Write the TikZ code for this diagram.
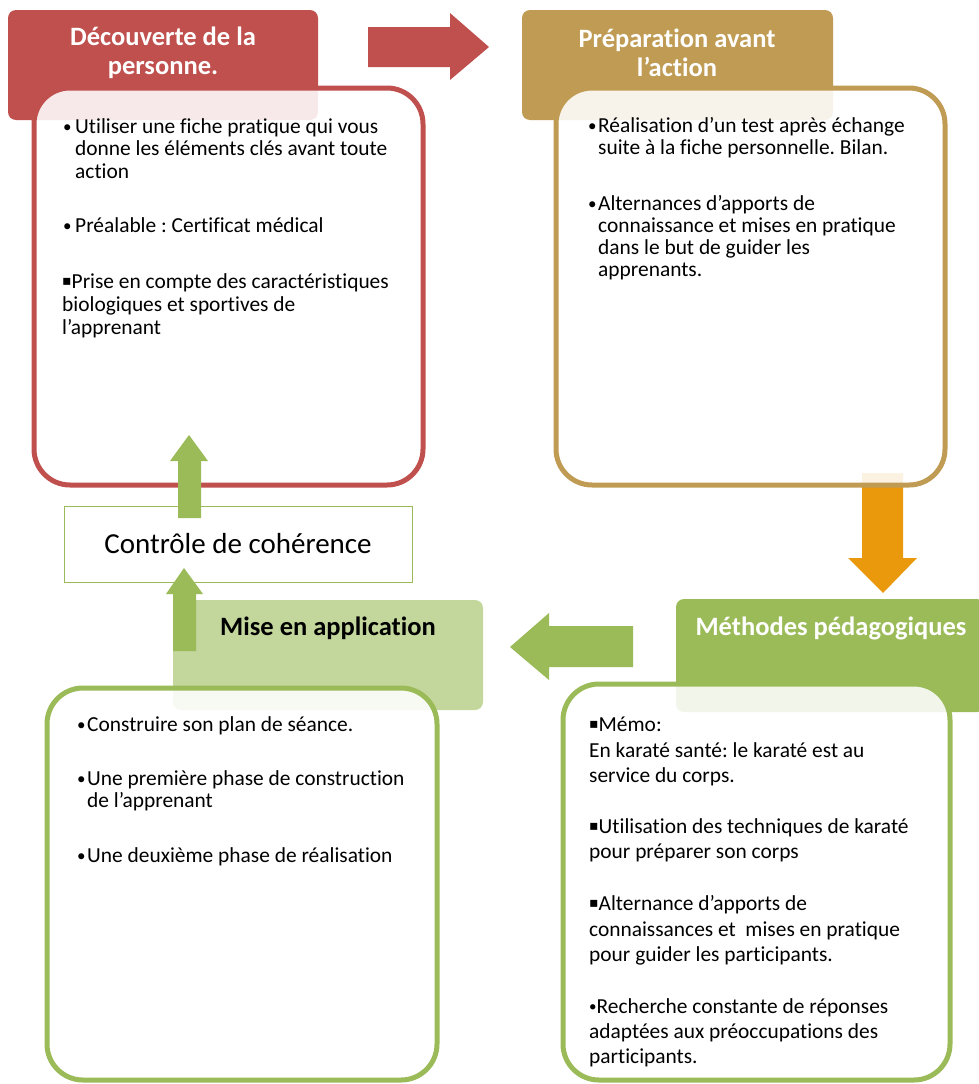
\documentclass[tikz,border=0pt]{standalone}
\usepackage{fontspec}
\setmainfont[Ligatures=CommonOff]{Carlito}
\newfontfamily\symfont{DejaVu Sans}
\frenchspacing
\definecolor{cred}{RGB}{192,80,77}
\definecolor{cgold}{RGB}{191,155,83}
\definecolor{corange}{RGB}{234,153,12}
\definecolor{cgreen}{RGB}{155,187,89}
\definecolor{clight}{RGB}{195,214,155}
\tikzset{
  hdr/.style={rounded corners=8pt},
  content/.style={line width=5pt, rounded corners=36pt, fill=white, fill opacity=0.88},
  title/.style={font=\bfseries\fontsize{26.5}{29}\selectfont, text=white, align=center, inner sep=0pt},
  txt/.style={font=\fontsize{21.4}{22.5}\selectfont, anchor=base west, inner sep=0pt},
  barrow/.style={draw=none},
}
\newcommand\txtline[4]{\node[txt] (#1) at (#2,#3) {#4};}
\newcommand\sqb{{\symfont\fontsize{14}{14}\selectfont\raisebox{2.5pt}{▪}}}
\newcommand\dotb{{\fontsize{17}{17}\selectfont\raisebox{1pt}{•}}}
\begin{document}
\begin{tikzpicture}[x=1pt,y=-1pt]
\useasboundingbox (0,0) rectangle (979,1084);

% headers
\fill[hdr, cred] (8,10) rectangle (318,120);
\fill[hdr, cgold] (522,10) rectangle (833,120);
\fill[hdr, cgreen] (676,599) rectangle (985,712);
\fill[hdr, clight] (173,600) rectangle (483,710);

% orange arrow (under gold box)
\fill[barrow, corange] (862,473) -- (903,473) -- (903,558) -- (917,558) -- (883,593) -- (848,558) -- (862,558) -- cycle;

% content boxes
\draw[content, draw=cred] (34,88) rectangle (423,485);
\draw[content, draw=cgold] (556,88) rectangle (945,485);
\draw[content, draw=cgreen] (563,684) rectangle (950,1080);
\draw[content, draw=cgreen] (47,688) rectangle (437,1080);

% titles
\node[title] (t1) at (163,53) {Découverte de la\\personne.};
\node[title] (t2) at (677,53) {Préparation avant\\l’action};
\node[title] (t3) at (831,628) {Méthodes pédagogiques};
\node[title, text=black] (t4) at (328,628) {Mise en application};

% control box
\node[draw=cgreen, line width=1pt, fill=white, minimum width=348pt, minimum height=76pt,
      font=\fontsize{29}{32}\selectfont] (ctrl) at (238,544) {Contrôle de cohérence};

% block arrows
\fill[barrow, cred] (368,27) -- (450,27) -- (450,13) -- (489,47) -- (450,80) -- (450,67) -- (368,67) -- cycle;
\fill[barrow, cgreen] (633,626) -- (549,626) -- (549,613) -- (510,647) -- (549,680) -- (549,667) -- (633,667) -- cycle;
\fill[barrow, cgreen] (178,518) -- (178,461) -- (170,461) -- (189,435) -- (208,461) -- (201,461) -- (201,518) -- cycle;
\fill[barrow, cgreen] (173,651) -- (173,594) -- (166,594) -- (184,568) -- (203,594) -- (196,594) -- (196,651) -- cycle;

% box 1 text
\txtline{a0}{63}{133}{\dotb}
\txtline{a1}{75}{133}{Utiliser une fiche pratique qui vous}
\txtline{a2}{75}{155}{donne les éléments clés avant toute}
\txtline{a3}{75}{178}{action}
\txtline{a4}{63}{232}{\dotb}
\txtline{a5}{75}{232}{Préalable : Certificat médical}
\txtline{a6}{62}{288}{\sqb Prise en compte des caractéristiques}
\txtline{a7}{62}{311}{biologiques et sportives de}
\txtline{a8}{62}{334}{l’apprenant}

% box 2 text
\txtline{b0}{588}{132}{\dotb}
\txtline{b1}{598}{132}{Réalisation d’un test après échange}
\txtline{b2}{598}{154}{suite à la fiche personnelle. Bilan.}
\txtline{b3}{588}{210}{\dotb}
\txtline{b4}{598}{210}{Alternances d’apports de}
\txtline{b5}{598}{232}{connaissance et mises en pratique}
\txtline{b6}{598}{254}{dans le but de guider les}
\txtline{b7}{598}{276}{apprenants.}

% box 3 text
\txtline{c1}{589}{731}{\sqb Mémo:}
\txtline{c2}{589}{757}{En karaté santé: le karaté est au}
\txtline{c3}{589}{782}{service du corps.}
\txtline{c4}{589}{833}{\sqb Utilisation des techniques de karaté}
\txtline{c5}{589}{858}{pour préparer son corps}
\txtline{c6}{589}{910}{\sqb Alternance d’apports de}
\txtline{c7}{589}{936}{connaissances et~ mises en pratique}
\txtline{c8}{589}{961}{pour guider les participants.}
\txtline{c9}{589}{1013}{{\fontsize{15}{15}\selectfont\raisebox{1.5pt}{•}}Recherche constante de réponses}
\txtline{c10}{589}{1038}{adaptées aux préoccupations des}
\txtline{c11}{589}{1063}{participants.}

% box 4 text
\txtline{d0}{77}{731}{\dotb}
\txtline{d1}{87}{731}{Construire son plan de séance.}
\txtline{d2}{77}{785}{\dotb}
\txtline{d3}{87}{785}{Une première phase de construction}
\txtline{d4}{87}{807}{de l’apprenant}
\txtline{d5}{77}{862}{\dotb}
\txtline{d6}{87}{862}{Une deuxième phase de réalisation}
\end{tikzpicture}
\end{document}
